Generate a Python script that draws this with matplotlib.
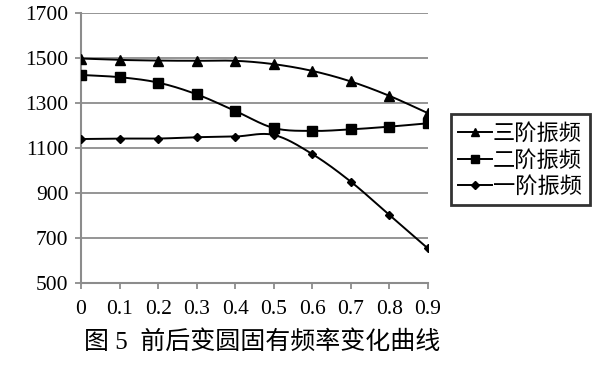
import matplotlib
matplotlib.use("Agg")
import matplotlib.pyplot as plt
import numpy as np

# 数据
x = [0, 0.1, 0.2, 0.3, 0.4, 0.5, 0.6, 0.7, 0.8, 0.9]
third = [1498, 1492, 1489, 1488, 1488, 1473, 1443, 1396, 1332, 1255]
second = [1425, 1415, 1391, 1339, 1265, 1189, 1176, 1183, 1195, 1210]
first = [1140, 1142, 1142, 1148, 1151, 1158, 1073, 950, 802, 653]
labels = ["三阶振频", "二阶振频", "一阶振频"]
markers = ["^", "s", "D"]
msizes = [7.5, 6.5, 4.5]
yticks = [500, 700, 900, 1100, 1300, 1500, 1700]

plt.rcParams['font.family'] = ['Liberation Serif', 'Noto Sans CJK SC']


def smooth(xs, ys, n=20):
    # catmull-rom, like the smoothed lines of the original
    xs = np.asarray(xs, float)
    ys = np.asarray(ys, float)
    px = np.concatenate([[2 * xs[0] - xs[1]], xs, [2 * xs[-1] - xs[-2]]])
    py = np.concatenate([[2 * ys[0] - ys[1]], ys, [2 * ys[-1] - ys[-2]]])
    ox, oy = [], []
    t = np.linspace(0, 1, n, endpoint=False)
    for i in range(1, len(px) - 2):
        for p, o in ((px, ox), (py, oy)):
            p0, p1, p2, p3 = p[i - 1], p[i], p[i + 1], p[i + 2]
            o.extend(0.5 * (2 * p1 + (-p0 + p2) * t
                            + (2 * p0 - 5 * p1 + 4 * p2 - p3) * t ** 2
                            + (-p0 + 3 * p1 - 3 * p2 + p3) * t ** 3))
    ox.append(xs[-1])
    oy.append(ys[-1])
    return ox, oy


fig = plt.figure(figsize=(6.14, 3.65), dpi=100)
ax = fig.add_axes([0.132, 0.225, 0.565, 0.739])

for ys, lab, mk, ms in zip([third, second, first], labels, markers, msizes):
    sx, sy = smooth(x, ys)
    ax.plot(sx, sy, color='black', lw=1.4, zorder=3)
    ax.plot(x, ys, linestyle='none', marker=mk, ms=ms, color='black', zorder=4)
    ax.plot([], [], color='black', lw=1.4, marker=mk, ms=ms * 0.8, label=lab)

ax.set_xlim(0, 0.9)
ax.set_ylim(500, 1700)
ax.set_xticks(x)
ax.set_xticklabels(["0"] + [str(v) for v in x[1:]])
ax.set_yticks(yticks)
ax.grid(axis='y', color='#8c8c8c', lw=1.3)
ax.set_axisbelow(True)
for s in ['top', 'right']:
    ax.spines[s].set_visible(False)
for s in ['left', 'bottom']:
    ax.spines[s].set_color('#8c8c8c')
    ax.spines[s].set_linewidth(1.5)
ax.tick_params(axis='both', colors='#8c8c8c', width=1.3, length=4, labelsize=15.5,
               labelcolor='black')
ax.tick_params(axis='x', pad=8)
ax.tick_params(axis='y', pad=5)

leg = ax.legend(loc='center left', bbox_to_anchor=(1.065, 0.456), frameon=True,
                fancybox=False, handlelength=1.5, handletextpad=0.05,
                borderpad=0.35, labelspacing=0.15, borderaxespad=0,
                prop={'family': 'Noto Sans CJK SC', 'size': 16})
leg.get_frame().set_edgecolor('black')
leg.get_frame().set_linewidth(2)

fig.text(0.427, 0.063, "图 5  前后变圆固有频率变化曲线", ha='center', va='center',
         fontsize=18)

fig.savefig('out.png', dpi=100)
